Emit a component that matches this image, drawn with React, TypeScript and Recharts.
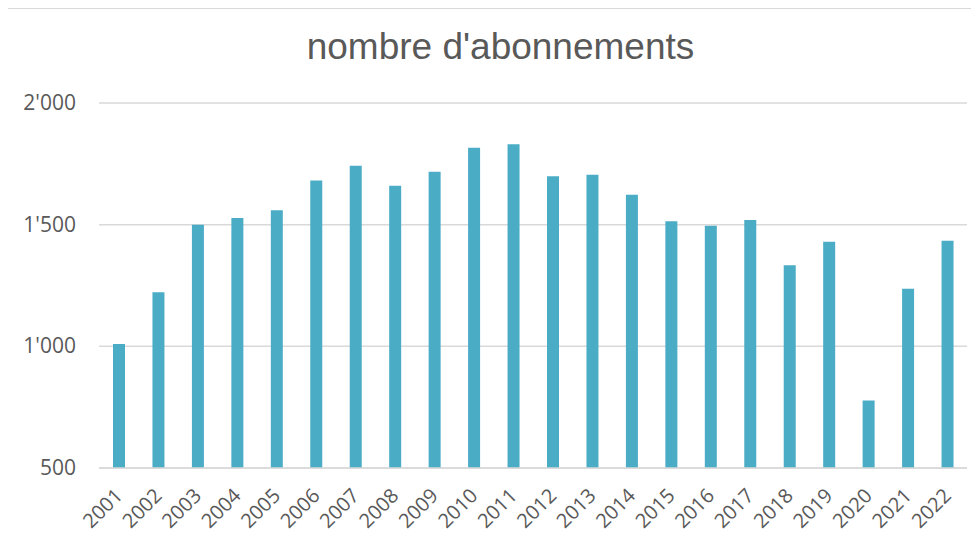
import { Bar, BarChart, CartesianGrid, XAxis, YAxis } from "recharts";

const YEARS = [
  "2001", "2002", "2003", "2004", "2005", "2006", "2007", "2008", "2009", "2010", "2011",
  "2012", "2013", "2014", "2015", "2016", "2017", "2018", "2019", "2020", "2021", "2022",
];

const ABONNEMENTS = [
  1010, 1222, 1500, 1527, 1559, 1682, 1742, 1660, 1717, 1816, 1830,
  1699, 1705, 1623, 1514, 1496, 1519, 1333, 1430, 777, 1237, 1434,
];

const Y_TICKS = [500, 1000, 1500, 2000];

const TEXT_COLOR = "#595959";
const GRID_COLOR = "#d9d9d9";
const BAR_COLOR = "#4bacc6";
const FONT = "'Open Sans', sans-serif";

const data = YEARS.map((year, i) => ({ year, value: ABONNEMENTS[i] }));

const fmt = (v: number) => {
  const s = String(v);
  return s.length > 3 ? s.slice(0, -3) + "'" + s.slice(-3) : s;
};

function YearTick({ x, y, payload }: any) {
  const ax = x + 5;
  const ay = y + 21;
  return (
    <text
      x={ax}
      y={ay}
      transform={`rotate(-45, ${ax}, ${ay})`}
      textAnchor="end"
      fill={TEXT_COLOR}
      style={{ fontSize: 20, fontFamily: FONT }}
    >
      {payload.value}
    </text>
  );
}

function ValueTick({ y, payload }: any) {
  return (
    <text
      x={76}
      y={y}
      dy={7}
      textAnchor="end"
      fill={TEXT_COLOR}
      style={{ fontSize: 21, fontFamily: FONT }}
    >
      {fmt(payload.value)}
    </text>
  );
}

export default function App() {
  return (
    <div style={{ position: "relative", width: 979, height: 544, margin: -8, background: "#fff", overflow: "hidden" }}>
      <div
        style={{
          position: "absolute",
          left: 11,
          width: 979,
          top: 24,
          textAlign: "center",
          fontFamily: "'Liberation Sans', Arial, sans-serif",
          fontSize: 37,
          color: TEXT_COLOR,
          lineHeight: "46px",
        }}
      >
        nombre d'abonnements
      </div>
      <div style={{ position: "absolute", left: 0, top: 0 }}>
        <BarChart width={979} height={544} data={data} margin={{ top: 103, right: 12, left: 0, bottom: 0 }}>
          <CartesianGrid horizontal vertical={false} stroke={GRID_COLOR} strokeWidth={1.5} />
          <XAxis
            dataKey="year"
            height={76}
            axisLine={{ stroke: GRID_COLOR, strokeWidth: 1.5 }}
            tickLine={false}
            interval={0}
            tick={<YearTick />}
          />
          <YAxis
            width={99}
            domain={[500, 2000]}
            ticks={Y_TICKS}
            axisLine={false}
            tickLine={false}
            tick={<ValueTick />}
          />
          <Bar dataKey="value" fill={BAR_COLOR} barSize={12} isAnimationActive={false} />
        </BarChart>
      </div>
      <div
        style={{
          position: "absolute",
          left: 5,
          top: 7,
          width: 1000,
          height: 600,
          boxSizing: "border-box",
          borderLeft: "2px solid #d9d9d9",
          borderTop: "2px solid #d9d9d9",
          pointerEvents: "none",
          zIndex: 2,
        }}
      />
    </div>
  );
}
